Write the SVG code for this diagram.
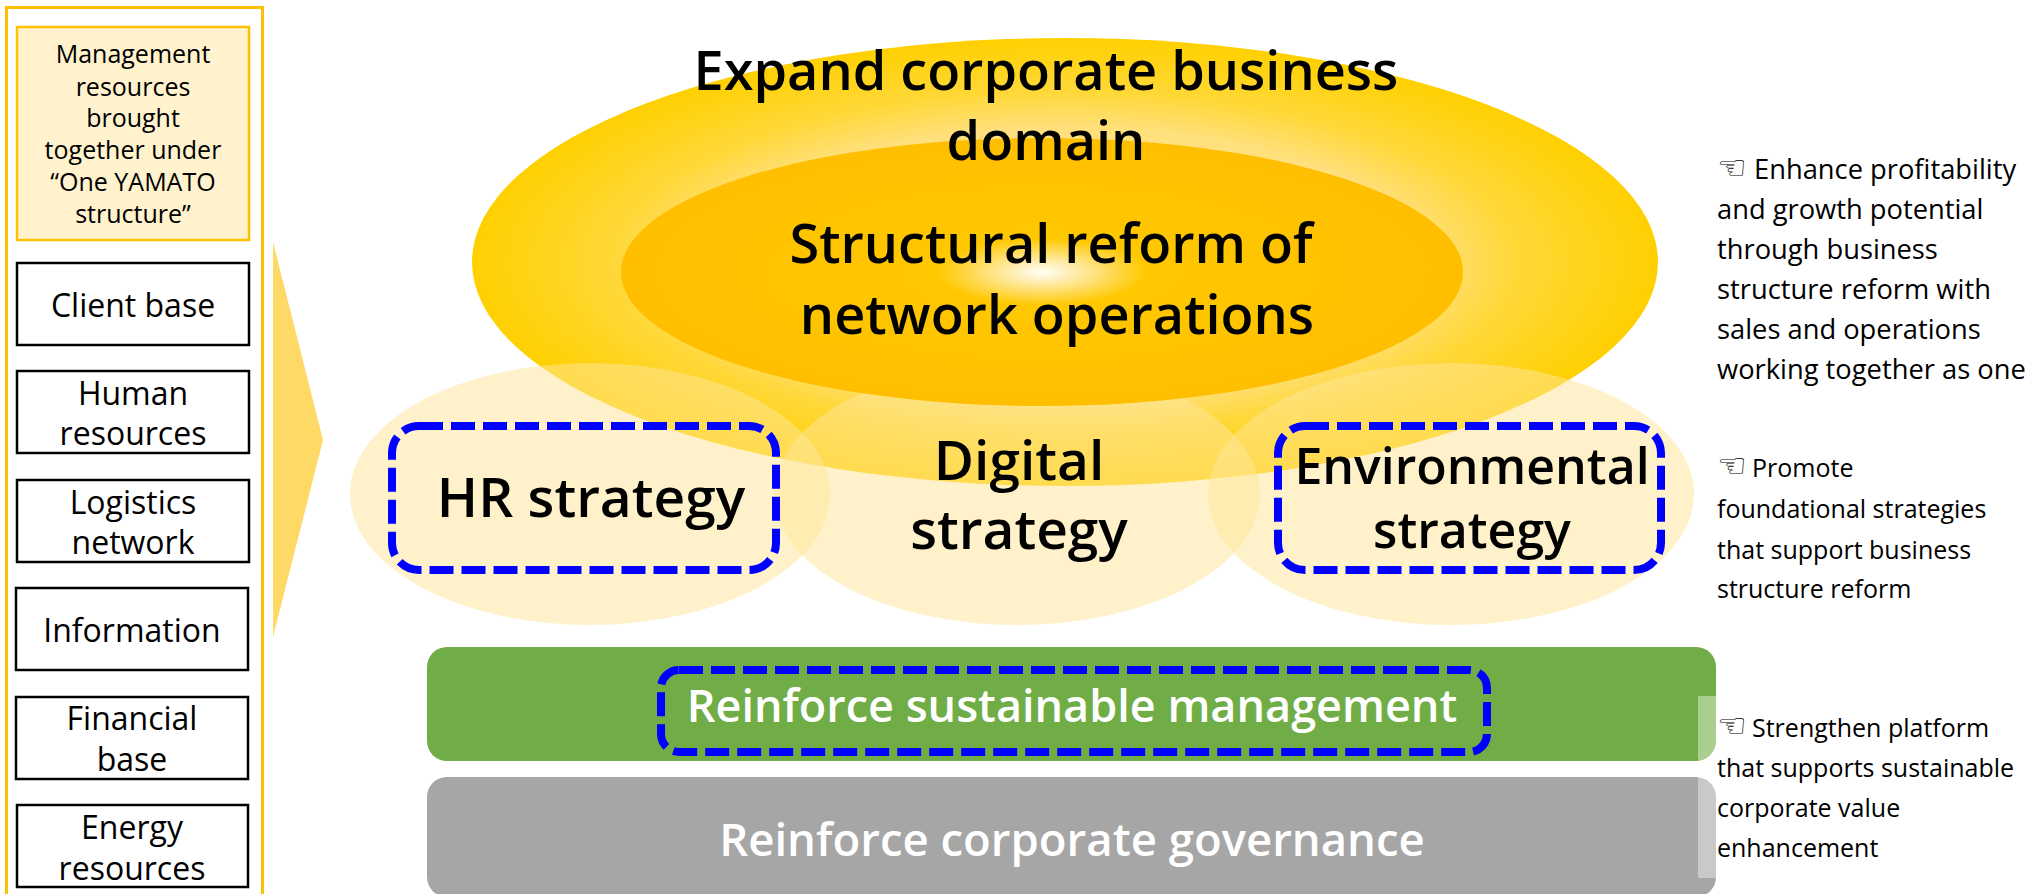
<svg xmlns="http://www.w3.org/2000/svg" width="2032" height="894" viewBox="0 0 2032 894">
<style>
text{font-family:"Open Sans","Noto Sans","DejaVu Sans",sans-serif;fill:#000;text-anchor:middle}
.res{fill:#fff;stroke:#000;stroke-width:2.5}
.r{font-size:32px}
.h{font-size:54px;font-weight:600}
.m{font-size:55px;font-weight:600}
.e{font-size:50px;font-weight:600}
.w{fill:#fff;font-size:45px;font-weight:600}
.g{fill:#fff;font-size:45.500px;font-weight:600}
.n{font-size:25px;text-anchor:start}
.n1{font-size:27.300px;text-anchor:start}
.hand{font-family:"DejaVu Sans",sans-serif;font-size:33px}
.t{font-size:25px}
.dash{fill:none;stroke:#00f;stroke-width:8;stroke-dasharray:24 8}
.sm{fill:#ffe699;fill-opacity:.52}
</style>
<defs>
<radialGradient id="g1" cx=".5" cy=".5" r=".5"><stop offset="0" stop-color="#ffe488"/><stop offset=".6" stop-color="#ffe07c"/><stop offset=".76" stop-color="#ffd838"/><stop offset="1" stop-color="#ffd000"/></radialGradient>
<radialGradient id="g2" cx=".5" cy=".5" r=".5"><stop offset="0" stop-color="#fffff4"/><stop offset=".06" stop-color="#fff0c0"/><stop offset=".25" stop-color="#ffc800"/><stop offset="1" stop-color="#ffbf00"/></radialGradient>
</defs>
<g id="frame"><rect x="6.500" y="7.500" width="256" height="900" fill="#fff" stroke="#ffc000" stroke-width="3"/></g>
<g id="resources-title"><rect x="17" y="27" width="232" height="213" fill="#fff2cc" stroke="#ffc000" stroke-width="2.500"/>
<text class="t" x="133" y="63">Management</text><text class="t" x="133" y="96">resources</text><text class="t" x="133" y="127">brought</text><text class="t" x="133" y="159">together under</text><text class="t" x="133" y="191">“One YAMATO</text><text class="t" x="133" y="223">structure”</text></g>
<g id="client"><rect class="res" x="17" y="263" width="232" height="82"/><text class="r" x="133" y="317">Client base</text></g>
<g id="human"><rect class="res" x="17" y="371" width="232" height="82"/><text class="r" x="133" y="405">Human</text><text class="r" x="133" y="445">resources</text></g>
<g id="logistics"><rect class="res" x="17" y="480" width="232" height="82"/><text class="r" x="133" y="514">Logistics</text><text class="r" x="133" y="554">network</text></g>
<g id="information"><rect class="res" x="16" y="588" width="232" height="82"/><text class="r" x="132" y="642">Information</text></g>
<g id="financial"><rect class="res" x="16" y="697" width="232" height="82"/><text class="r" x="132" y="730">Financial</text><text class="r" x="132" y="771">base</text></g>
<g id="energy"><rect class="res" x="17" y="805" width="231" height="82"/><text class="r" x="132" y="839">Energy</text><text class="r" x="132" y="880">resources</text></g>
<g id="connectors"><polygon points="273,242 323,440 273,637" fill="#ffd966"/></g>
<g id="expand"><ellipse cx="1065" cy="262" rx="593" ry="224" fill="url(#g1)"/></g>
<g id="hr"><ellipse class="sm" cx="590" cy="494" rx="240" ry="131"/></g>
<g id="digital"><ellipse class="sm" cx="1017" cy="494" rx="243" ry="131"/></g>
<g id="env"><ellipse class="sm" cx="1451" cy="494" rx="243" ry="131"/></g>
<g id="network"><ellipse cx="1042" cy="272" rx="421" ry="134" fill="url(#g2)"/></g>
<g id="expand-label"><text class="h" x="1046" y="90">Expand corporate business</text><text class="h" x="1046" y="160">domain</text></g>
<g id="network-label"><text class="h" x="1051" y="263">Structural reform of</text><text class="h" x="1057" y="334">network operations</text></g>
<g id="hr-label"><rect class="dash" x="392" y="426" width="384" height="144" rx="27"/><text class="m" x="591" y="517">HR strategy</text></g>
<g id="digital-label"><text class="m" x="1019" y="480">Digital</text><text class="m" x="1019" y="549">strategy</text></g>
<g id="env-label"><rect class="dash" x="1278" y="426" width="383" height="144" rx="27"/><text class="e" x="1472" y="484">Environmental</text><text class="e" x="1472" y="548">strategy</text></g>
<g id="sustain"><rect x="427" y="647" width="1289" height="114" rx="20" fill="#70ad47"/><rect class="dash" x="661" y="670" width="826" height="82" rx="18"/><text class="w" x="1072" y="722">Reinforce sustainable management</text></g>
<g id="gov"><rect x="427" y="777" width="1289" height="120" rx="20" fill="#a6a6a6"/><text class="g" x="1072" y="856">Reinforce corporate governance</text></g>
<g id="band"><rect x="1698" y="696" width="18" height="65" fill="#fff" fill-opacity=".4"/><rect x="1698" y="777" width="18" height="101" fill="#fff" fill-opacity=".4"/></g>
<g id="note1"><text class="n1" x="1717" y="179"><tspan class="hand">☜</tspan><tspan x="1754">Enhance profitability</tspan></text><text class="n1" x="1717" y="219">and growth potential</text><text class="n1" x="1717" y="259">through business</text><text class="n1" x="1717" y="299">structure reform with</text><text class="n1" x="1717" y="339">sales and operations</text><text class="n1" x="1717" y="379">working together as one</text></g>
<g id="note2"><text class="n" x="1717" y="477"><tspan class="hand">☜</tspan><tspan x="1752">Promote</tspan></text><text class="n" x="1717" y="518">foundational strategies</text><text class="n" x="1717" y="559">that support business</text><text class="n" x="1717" y="598">structure reform</text></g>
<g id="note3"><text class="n" x="1717" y="737"><tspan class="hand">☜</tspan><tspan x="1752">Strengthen platform</tspan></text><text class="n" x="1717" y="777">that supports sustainable</text><text class="n" x="1717" y="817">corporate value</text><text class="n" x="1717" y="857">enhancement</text></g>
</svg>
